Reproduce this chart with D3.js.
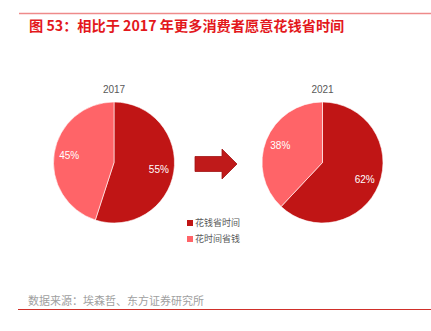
<!DOCTYPE html>
<html>
<head>
<meta charset="utf-8">
<script src="https://cdn.jsdelivr.net/npm/d3@7"></script>
<style>
  html, body { margin: 0; padding: 0; background: #fff; }
  svg { display: block; font-family: "Liberation Sans", Arial, "Noto Sans CJK SC", sans-serif; }
</style>
</head>
<body>
<svg id="chart" width="431" height="331"></svg>
<script>
// Share of consumers: spend money to save time vs. spend time to save money
const years = ["2017", "2021"];
const categories = ["花钱省时间", "花时间省钱"];
const values2017 = [55, 45];
const values2021 = [62, 38];
const seriesByYear = [values2017, values2021];

const titleText = "图 53：相比于 2017 年更多消费者愿意花钱省时间";
const sourceText = "数据来源：埃森哲、东方证券研究所";

const colors = d3.scaleOrdinal().domain(categories).range(["#C01515", "#FF6468"]);

const svg = d3.select("#chart");
const W = 431;

// header rule and title
svg.append("line").attr("x1", 19).attr("x2", W).attr("y1", 13.5).attr("y2", 13.5)
  .attr("stroke", "#EE8A8A").attr("stroke-width", 1.3);
svg.append("text").attr("x", 29).attr("y", 31)
  .attr("fill", "#E3181C").attr("font-size", 14.2).attr("font-weight", "bold")
  .attr("font-family", "'Noto Sans CJK SC', sans-serif")
  .text(titleText);

// pies
const radius = 60.5;
const centers = d3.scalePoint().domain(years).range([114, 322.5]);
const cy = 162.5;
const pie = d3.pie().sort(null).value(d => d.value);
const arc = d3.arc().innerRadius(0).outerRadius(radius);
const labelArc = d3.arc().innerRadius(radius * 0.75).outerRadius(radius * 0.75);

years.forEach((yr, i) => {
  const data = categories.map((c, j) => ({ cat: c, value: seriesByYear[i][j] }));
  const g = svg.append("g").attr("transform", `translate(${centers(yr)},${cy})`);
  g.selectAll("path").data(pie(data)).enter().append("path")
    .attr("d", arc).attr("fill", d => colors(d.data.cat))
    .attr("stroke", "#fff").attr("stroke-width", 0.6);
  g.selectAll("text.lbl").data(pie(data)).enter().append("text")
    .attr("class", "lbl")
    .attr("transform", d => `translate(${labelArc.centroid(d)})`)
    .attr("text-anchor", "middle").attr("dy", "0.35em")
    .attr("fill", "#fff").attr("font-size", 10)
    .text(d => d.data.value + "%");
  g.append("text").attr("x", 0).attr("y", 89 - cy + 3.5)
    .attr("text-anchor", "middle").attr("fill", "#595959").attr("font-size", 10)
    .text(yr);
});

// arrow between the pies
const ax0 = 195, ax1 = 237, ay = 164;
const arrowPath = d3.path();
arrowPath.moveTo(ax0, ay - 7.5);
arrowPath.lineTo(222, ay - 7.5);
arrowPath.lineTo(222, ay - 15);
arrowPath.lineTo(ax1, ay);
arrowPath.lineTo(222, ay + 15);
arrowPath.lineTo(222, ay + 7.5);
arrowPath.lineTo(ax0, ay + 7.5);
arrowPath.closePath();
svg.append("path").attr("d", arrowPath.toString())
  .attr("fill", "#BF1A1A").attr("stroke", "#A11414").attr("stroke-width", 0.8);

// legend
const legend = svg.append("g").attr("transform", "translate(187,223)");
categories.forEach((c, j) => {
  const row = legend.append("g").attr("transform", `translate(0,${j * 16})`);
  row.append("rect").attr("x", 0).attr("y", -3).attr("width", 6).attr("height", 6)
    .attr("fill", colors(c));
  row.append("text").attr("x", 8).attr("y", 0).attr("dy", "0.35em")
    .attr("fill", "#595959").attr("font-size", 9)
    .attr("font-family", "'Noto Sans CJK SC', sans-serif")
    .text(c);
});

// source and footer rule
svg.append("text").attr("x", 28).attr("y", 304.5)
  .attr("fill", "#A0A0A0").attr("font-size", 11)
  .attr("font-family", "'Noto Sans CJK SC', sans-serif")
  .text(sourceText);
svg.append("line").attr("x1", 18).attr("x2", W).attr("y1", 309.5).attr("y2", 309.5)
  .attr("stroke", "#D0302A").attr("stroke-width", 1);
</script>
</body>
</html>
